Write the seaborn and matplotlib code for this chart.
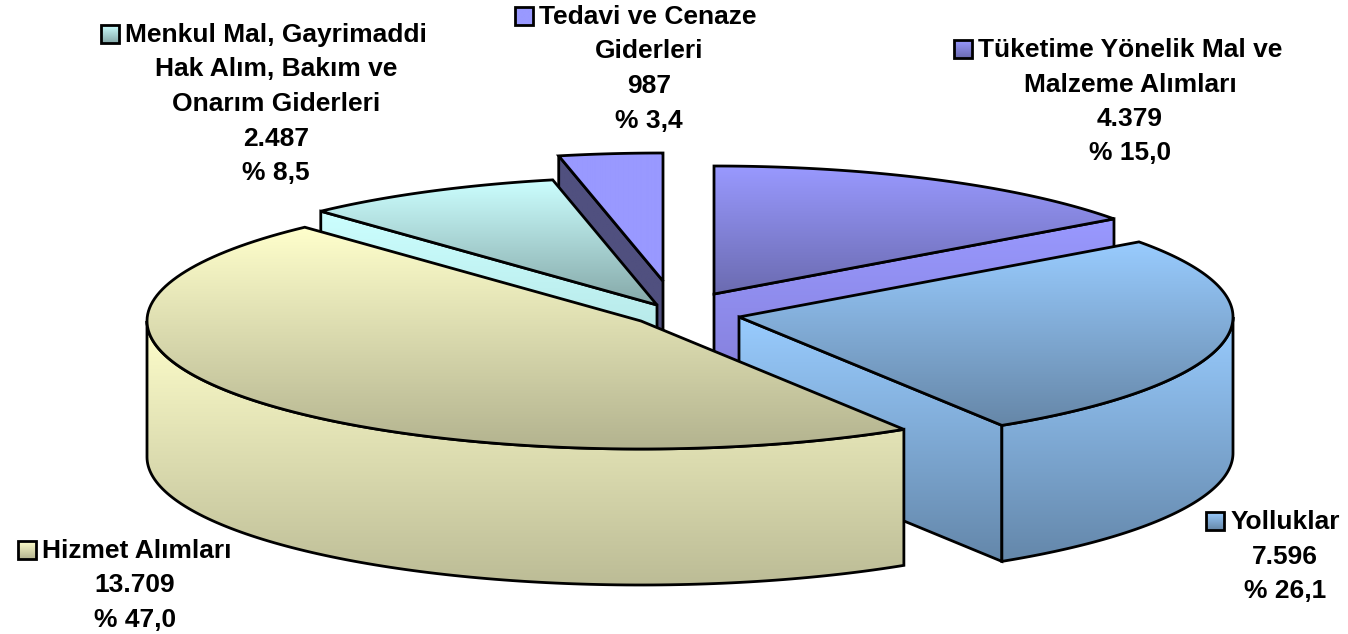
import numpy as np
import matplotlib
matplotlib.use("Agg")
import matplotlib.pyplot as plt
from matplotlib.patches import Polygon
import seaborn as sns

# slices, clockwise from 12 o'clock
names = ["Tüketime Yönelik Mal ve\nMalzeme Alımları", "Yolluklar", "Hizmet Alımları",
         "Menkul Mal, Gayrimaddi\nHak Alım, Bakım ve\nOnarım Giderleri", "Tedavi ve Cenaze\nGiderleri"]
values = [4379, 7596, 13709, 2487, 987]

top_light = ["#9999ff", "#99ccff", "#ffffcc", "#ccffff", "#9999ff"]
top_dark = ["#6b6bb0", "#6687a8", "#b3b38f", "#85a8a8", "#9999ff"]
wall_light = ["#9999ff", "#99ccff", "#ffffcc", "#ccffff", "#50507f"]
wall_dark = ["#7f78d0", "#6487aa", "#bcbc96", "#a5d5d5", "#50507f"]

# exploded offset of each slice from the pie centre, pixels
offset_x = [34, 59, -39, -23, -17]
offset_y = [-18, 5, 9, -7, -31]
draw_order = [4, 0, 3, 1, 2]

# label anchors: centre x, first-line x, first-line y
label_x = [1130, 1285, 135, 276, 649]
first_x = [1130, 1285, 137, 276, 648]
label_y = [50, 522, 551, 35, 17]

cx, cy = 680, 312
rx, ry = 494, 128
depth = 136
line_step = 34.5

sns.set_theme(style="white")
plt.rcParams["font.family"] = ["Liberation Sans", "DejaVu Sans"]

fig = plt.figure(figsize=(13.48, 6.34), dpi=100)
ax = fig.add_axes([0, 0, 1, 1])
ax.set_axis_off()

layer = [1]


def arc(x0, y0, a1, a2):
    t = np.radians(np.linspace(a1, a2, 120))
    return np.column_stack([x0 + rx * np.sin(t), y0 - ry * np.cos(t)])


def shaded(points, light, dark):
    # polygon with a top-to-bottom gradient and a black outline
    points = np.asarray(points)
    cmap = sns.blend_palette([light, dark], n_colors=128, as_cmap=True)
    grad = np.linspace(0, 1, 256).reshape(-1, 1)
    box = (points[:, 0].min(), points[:, 0].max(), points[:, 1].max(), points[:, 1].min())
    img = ax.imshow(grad, cmap=cmap, extent=box, aspect="auto", origin="upper",
                    interpolation="bilinear", zorder=layer[0])
    outline = Polygon(points, closed=True, fc="none", ec="black", lw=2.0, joinstyle="miter",
                      zorder=layer[0] + 0.5)
    ax.add_patch(outline)
    img.set_clip_path(outline)
    layer[0] += 1


edges = np.concatenate([[0], np.cumsum(values)]) / np.sum(values) * 360

for i in draw_order:
    x0, y0 = cx + offset_x[i], cy + offset_y[i]
    a1, a2 = edges[i], edges[i + 1]
    top = arc(x0, y0, a1, a2)
    drop = np.array([0, depth])
    # radial wall facing the viewer
    if np.sin(np.radians(a2)) > 0.01:
        p = top[-1]
    elif np.sin(np.radians(a1)) < -0.01:
        p = top[0]
    else:
        p = None
    if p is not None:
        wall = [(x0, y0), p, p + drop, (x0, y0 + depth)]
        shaded(wall, wall_light[i], wall_dark[i])
    # curved outer rim, front half only
    lo, hi = max(a1, 90), min(a2, 270)
    if lo < hi:
        rim = arc(x0, y0, lo, hi)
        shaded(np.vstack([rim, (rim + drop)[::-1]]), wall_light[i], wall_dark[i])
    shaded(np.vstack([[x0, y0], top]), top_light[i], top_dark[i])

ax.set_xlim(0, 1348)
ax.set_ylim(634, 0)

fig.canvas.draw()
renderer = fig.canvas.get_renderer()
total = sum(values)
for i in range(len(values)):
    pct = f"{values[i] / total * 100:.1f}".replace(".", ",")
    lines = names[i].split("\n") + [f"{values[i]:,}".replace(",", "."), f"% {pct}"]
    for k, line in enumerate(lines):
        tx = first_x[i] if k == 0 else label_x[i]
        t = ax.text(tx, label_y[i] + k * line_step, line, ha="center", va="center",
                    fontsize=19, fontweight="bold", color="black", zorder=50)
        if k == 0:
            left = t.get_window_extent(renderer).x0
            s = 18
            ky = label_y[i] - 1
            key_x = left - 6
            shaded([(key_x - s, ky - s / 2), (key_x, ky - s / 2), (key_x, ky + s / 2), (key_x - s, ky + s / 2)],
                   top_light[i], top_dark[i])

ax.set_xlim(0, 1348)
ax.set_ylim(634, 0)
fig.savefig("out.png", dpi=100)
